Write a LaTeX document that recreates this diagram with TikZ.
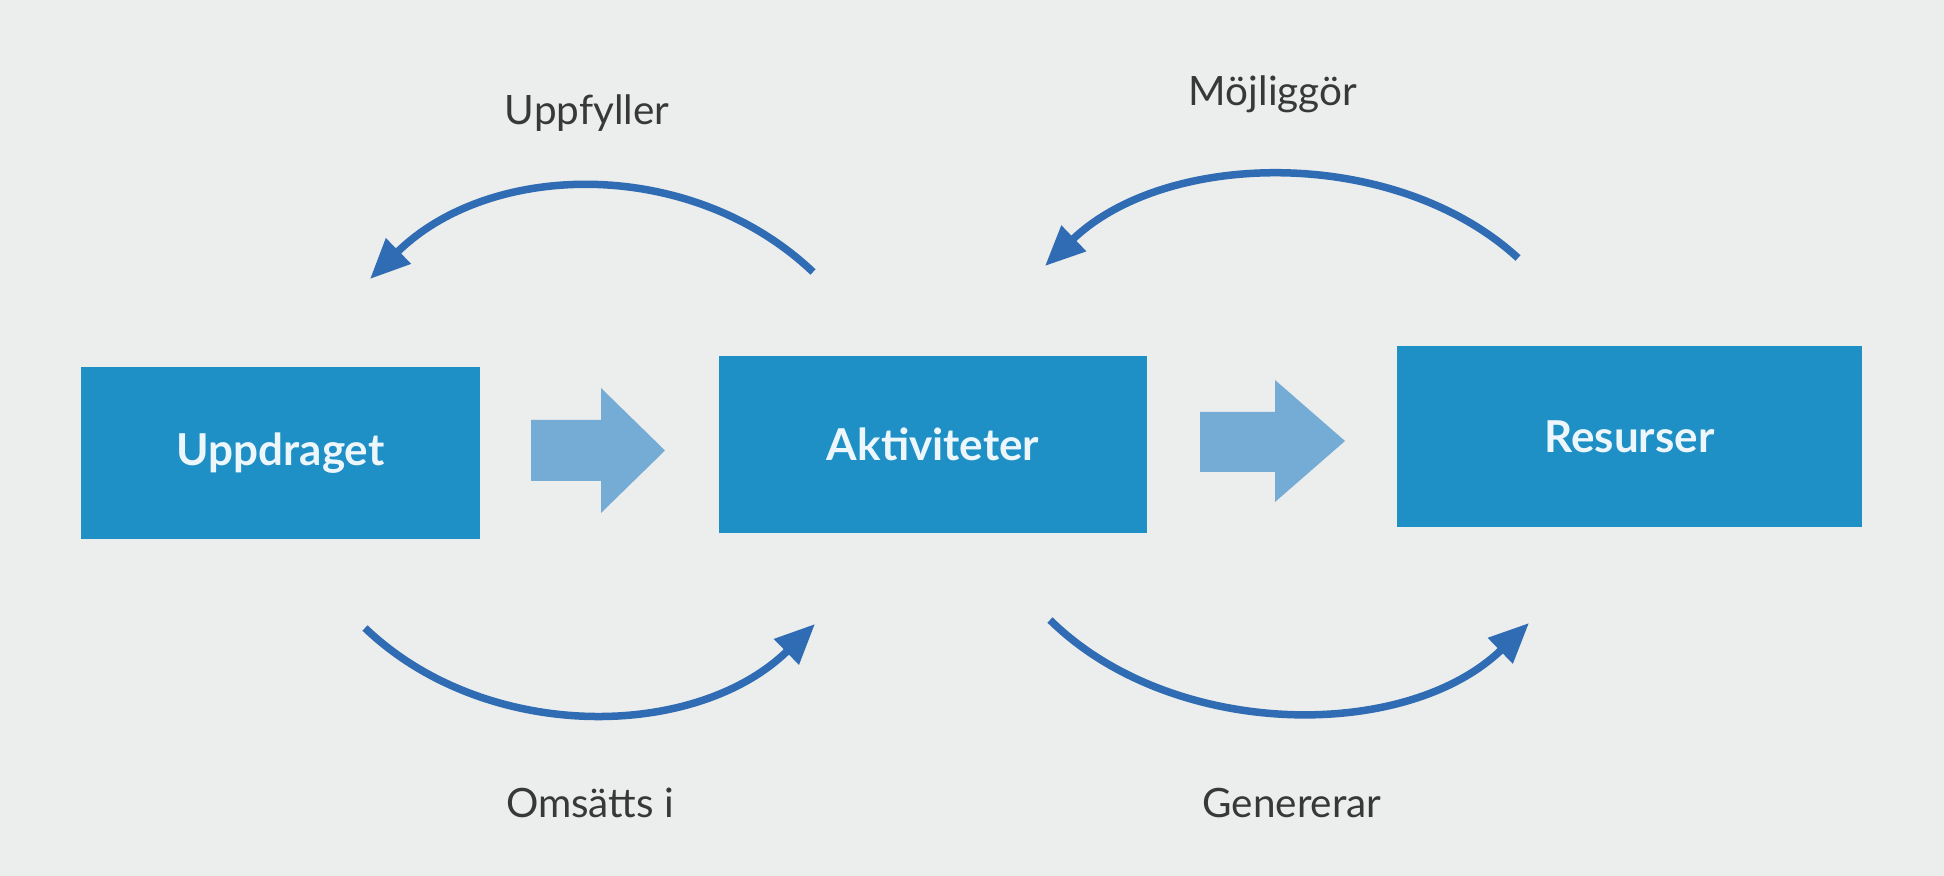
\documentclass[tikz,border=0pt]{standalone}
\usepackage{fontspec}
\setmainfont{Lato}
\usetikzlibrary{arrows.meta}
\definecolor{bg}{HTML}{ECEDED}
\definecolor{boxblue}{HTML}{1E90C6}
\definecolor{lightblue}{HTML}{74ACD6}
\definecolor{curveblue}{HTML}{2F6CB4}
\definecolor{labelgray}{HTML}{383838}
\begin{document}
\begin{tikzpicture}[x=0.01cm,y=-0.01cm,
  box/.style={fill=boxblue, draw=none, text=white!92!boxblue, font=\bfseries\fontsize{12.5}{15}\selectfont, inner sep=0pt},
  lab/.style={text=labelgray, font=\fontsize{11.5}{14}\selectfont, inner sep=0pt},
  curve/.style={draw=curveblue, line width=0.75mm, -{Triangle[length=4mm,width=3.4mm]}},
  blockarrow/.style={fill=lightblue}]
\fill[bg] (0,0) rectangle (1944,876);
\useasboundingbox (0,0) rectangle (1944,876);
% boxes
\node[box, minimum width=3.99cm, minimum height=1.72cm] (u) at (280.5,453) {Uppdraget};
\node[box, minimum width=4.28cm, minimum height=1.77cm] (a) at (933,444.5) {Aktiviteter};
\node[box, minimum width=4.65cm, minimum height=1.81cm] (r) at (1629.5,436.5) {Resurser};
% block arrows
\fill[blockarrow] (531,420) -- (601,420) -- (601,388) -- (665,450.5) -- (601,513) -- (601,481) -- (531,481) -- cycle;
\fill[blockarrow] (1200,412) -- (1275,412) -- (1275,380) -- (1345,441) -- (1275,502) -- (1275,472) -- (1200,472) -- cycle;
% curve end points
\coordinate (tl1) at (813,272);
\coordinate (tl2) at (370,279);
\coordinate (tr1) at (1518,258);
\coordinate (tr2) at (1045,266);
\coordinate (bl1) at (365,628);
\coordinate (bl2) at (815,624);
\coordinate (br1) at (1050,620);
\coordinate (br2) at (1529,623);
% curved arrows
\draw[curve] (tl1) .. controls (692,157) and (491,160) .. (tl2);
\draw[curve] (tr1) .. controls (1396,146) and (1167,149) .. (tr2);
\draw[curve] (bl1) .. controls (485,743) and (695,741) .. (bl2);
\draw[curve] (br1) .. controls (1172,740) and (1406,742) .. (br2);
% labels
\node[lab] (l1) at (587,113) {Uppfyller};
\node[lab] (l2) at (1273,94) {Möjliggör};
\node[lab] (l3) at (590,803) {Omsätts i};
\node[lab] (l4) at (1292,803) {Genererar};
\end{tikzpicture}
\end{document}
